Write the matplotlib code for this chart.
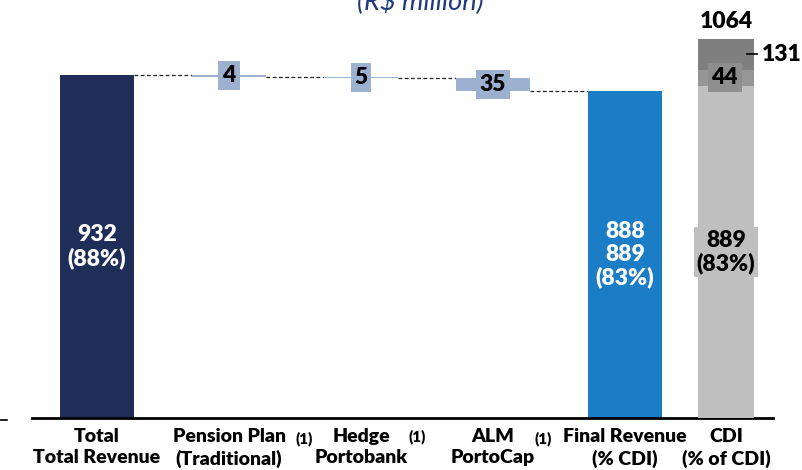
import matplotlib
matplotlib.use("Agg")
import matplotlib.pyplot as plt
from matplotlib.lines import Line2D

plt.rcParams['font.family'] = ['Lato', 'DejaVu Sans']

# ---------------- data ----------------
categories = ["Total\nTotal Revenue", "Pension Plan\n(Traditional)", "Hedge\nPortobank",
              "ALM\nPortoCap", "Final Revenue\n(% CDI)", "CDI\n(% of CDI)"]
total_value = 932
total_label = "932\n(88%)"
adjust_values = [-4, -5, -35]
adjust_labels = ["4", "5", "35"]
final_value = 888
final_label = "888\n889\n(83%)"
cdi_parts = [889, 44, 131]
cdi_part_labels = ["889\n(83%)", "44", "131"]
cdi_total_label = "1064"
title = "(R$ million)"
footnote = "(1)"

# ---------------- style ----------------
C_TOTAL = "#1F2D59"
C_FINAL = "#1B7DC5"
C_ADJ = "#9CB0D0"
C_CDI = ["#BFBFBF", "#969696", "#7F7F7F"]
C_44BOX = "#8E8E8E"
WEIGHT = "heavy"
FS = 16.5

W, H = 802, 470
fig = plt.figure(figsize=(W / 100, H / 100), dpi=100)
ax_left, ax_right, ax_bot, ax_top = 32, 773, 418, 39
ax = fig.add_axes([ax_left / W, (H - ax_bot) / H, (ax_right - ax_left) / W, (ax_bot - ax_top) / H])
ax2 = ax.twinx()

xpos = [0, 1, 2, 3, 4, 4.765]
bw = 0.56
bw_cdi = 0.424

ax.set_xlim(-0.4924, 5.121)
ax.set_ylim(0, 1030)
ax2.set_ylim(0, 1015)

# Total bar
ax.bar(xpos[0], total_value, width=bw, color=C_TOTAL, zorder=2)
ax.text(xpos[0], total_value / 2, total_label, color="white", fontsize=FS, fontweight=WEIGHT,
        ha="center", va="center", linespacing=1.12, zorder=5)

# waterfall adjustments
running = total_value
prev_right = xpos[0] + bw / 2
for i, (v, lab) in enumerate(zip(adjust_values, adjust_labels)):
    x = xpos[i + 1]
    ax.plot([prev_right, x - bw / 2], [running, running], color="#222222", lw=0.9,
            ls=(0, (3, 2)), zorder=1)
    bottom = running + v
    ax.bar(x, -v, bottom=bottom, width=bw, color=C_ADJ, zorder=2)
    ax.text(x, bottom - v / 2, lab, color="black", fontsize=FS, fontweight=WEIGHT,
            ha="center", va="center", zorder=5,
            bbox=dict(boxstyle="square,pad=0.17", fc=C_ADJ, ec="none"))
    running = bottom
    prev_right = x + bw / 2
ax.plot([prev_right, xpos[4] - bw / 2], [running, running], color="#222222", lw=0.9,
        ls=(0, (3, 2)), zorder=1)

# Final revenue
ax.bar(xpos[4], final_value, width=bw, color=C_FINAL, zorder=2)
ax.text(xpos[4], final_value / 2, final_label, color="white", fontsize=FS, fontweight=WEIGHT,
        ha="center", va="center", linespacing=1.12, zorder=5)

# CDI stacked (secondary scale, clipped by plot area like the original)
bottom = 0
for part, col in zip(cdi_parts, C_CDI):
    ax2.bar(xpos[5], part, bottom=bottom, width=bw_cdi, color=col, zorder=2)
    bottom += part
ax2.text(xpos[5], cdi_parts[0] / 2, cdi_part_labels[0], color="black", fontsize=FS,
         fontweight=WEIGHT, ha="center", va="center", linespacing=1.12, zorder=5,
         bbox=dict(boxstyle="square,pad=0.12", fc=C_CDI[0], ec="none"))
mid = cdi_parts[0] + cdi_parts[1] / 2
ax2.text(xpos[5] - 0.01, mid, cdi_part_labels[1], color="black", fontsize=FS,
         fontweight=WEIGHT, ha="center", va="center", zorder=5,
         bbox=dict(boxstyle="square,pad=0.17", fc=C_44BOX, ec="none"))
top_mid = cdi_parts[0] + cdi_parts[1] + (1015 - cdi_parts[0] - cdi_parts[1]) / 2
ax2.plot([xpos[5] + 0.16, xpos[5] + 0.235], [top_mid, top_mid], color="black", lw=1.2,
         zorder=5, clip_on=False)
ax2.text(xpos[5] + 0.27, top_mid, cdi_part_labels[2], color="black", fontsize=FS,
         fontweight=WEIGHT, ha="left", va="center", zorder=5, clip_on=False)
ax2.text(xpos[5], 1015, cdi_total_label, color="black", fontsize=FS, fontweight=WEIGHT,
         ha="center", va="baseline", zorder=5, clip_on=False,
         transform=ax2.transData + matplotlib.transforms.ScaledTranslation(0, 11 / 100, fig.dpi_scale_trans))

# axes styling
for a in (ax, ax2):
    for s in ("top", "left", "right"):
        a.spines[s].set_visible(False)
    a.set_yticks([])
ax2.spines["bottom"].set_visible(False)
ax.spines["bottom"].set_linewidth(2)
ax.spines["bottom"].set_color("black")
ax.set_xticks(xpos)
ax.set_xticklabels(categories, fontsize=14, fontweight=WEIGHT, linespacing=1.32)
ax.tick_params(axis="x", length=0, pad=7)

# footnote markers
for px, py in [(304, 439), (417, 437), (543, 439)]:
    fig.text(px / W, 1 - py / H, footnote, fontsize=11, fontweight=WEIGHT,
             ha="center", va="center")

# title (cut at the top like the original)
fig.text(420 / W, 1 - 10 / H, title, fontsize=19.5, style="italic", color="#203A80",
         ha="center", va="baseline")

# small stray dash at left
fig.add_artist(Line2D([0 / W, 7 / W], [1 - 420 / H, 1 - 420 / H], color="black", lw=1.2))

fig.savefig("out.png", dpi=100)
